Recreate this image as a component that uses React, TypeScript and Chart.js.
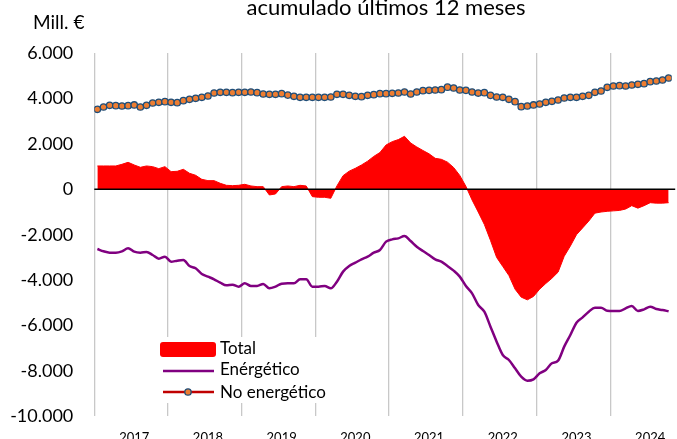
import { useEffect, useRef } from 'react';
import { Chart, registerables } from 'chart.js';

Chart.register(...registerables);

// Year tick labels (each covers 12 monthly categories)
const years = ['2017', '2018', '2019', '2020', '2021', '2022', '2023', '2024'];

// Monthly values, Mill. € (12-month accumulated)
const total = [
  1028, 1028, 1028, 1028, 1101, 1189, 1072, 969, 1028, 998, 910, 998,
  778, 793, 881, 705, 617, 440, 382, 382, 264, 176, 161, 176,
  220, 147, 117, 117, -250, -205, 117, 147, 117, 176, 147, -323,
  -352, -352, -396, 150, 600, 800, 925, 1072, 1240, 1450, 1620, 1952,
  2099, 2190, 2335, 2040, 1865, 1710, 1563, 1365, 1321, 1196, 960, 610,
  130, -470, -1000, -1550, -2250, -3000, -3400, -3800, -4400, -4750, -4870, -4720,
  -4400, -4150, -3920, -3650, -2950, -2500, -2000, -1700, -1400, -1050, -1000, -970,
  -950, -930, -870, -720, -830, -720, -590, -610, -610, -590,
];

const energetico = [
  -2630, -2732, -2790, -2790, -2732, -2600, -2747, -2790, -2762, -2894, -3056, -2967,
  -3188, -3144, -3114, -3378, -3480, -3730, -3848, -3966, -4112, -4230, -4200, -4289,
  -4142, -4260, -4260, -4171, -4362, -4289, -4157, -4142, -4142, -3966, -3966, -4289,
  -4289, -4260, -4362, -4068, -3627, -3378, -3232, -3085, -2967, -2791, -2674, -2307,
  -2205, -2160, -2057, -2278, -2527, -2718, -2894, -3085, -3188, -3378, -3584, -3848,
  -4260, -4583, -5100, -5391, -6051, -6712, -7300, -7519, -7886, -8254, -8430, -8371,
  -8107, -7960, -7666, -7549, -6932, -6418, -5875, -5640, -5391, -5214, -5214, -5347,
  -5361, -5361, -5244, -5141, -5361, -5288, -5170, -5273, -5317, -5376,
];

const noEnergetico = [
  3524, 3625, 3700, 3685, 3670, 3685, 3715, 3625, 3700, 3802, 3832, 3861,
  3832, 3817, 3905, 3964, 4008, 4052, 4111, 4243, 4273, 4273, 4258, 4273,
  4273, 4287, 4258, 4199, 4184, 4184, 4213, 4150, 4096, 4052, 4052, 4052,
  4052, 4052, 4066, 4184, 4184, 4140, 4096, 4081, 4140, 4169, 4213, 4213,
  4228, 4243, 4287, 4199, 4287, 4345, 4360, 4375, 4390, 4500, 4463, 4375,
  4360, 4287, 4240, 4257, 4139, 4066, 4052, 3964, 3861, 3640, 3670, 3715,
  3758, 3832, 3876, 3935, 4023, 4052, 4052, 4096, 4139, 4273, 4331, 4493,
  4551, 4566, 4551, 4595, 4625, 4654, 4742, 4771, 4815, 4903,
];

const seriesNames = ['Total', 'Enérgético', 'No energético'];
const titleText = 'acumulado últimos 12 meses';
const unitText = 'Mill. €';

const FONT = 'Lato, "Open Sans", sans-serif';
const OFF = 10; // canvas starts 10px above the visible page
const RED = '#ff0000';
const PURPLE = '#800080';
const DARKRED = '#c00000';
const ORANGE = '#ed7d31';
const NAVY = '#1f4e79';

function fmt(v: number): string {
  const s = Math.abs(v).toString().replace(/\B(?=(\d{3})+(?!\d))/g, '.');
  return (v < 0 ? '-' : '') + s;
}

const overlay = {
  id: 'overlay',
  afterDatasetsDraw(chart: any) {
    const { ctx, chartArea, scales } = chart;
    const y0 = Math.round(scales.y.getPixelForValue(0)) + 0.25;
    ctx.save();
    ctx.strokeStyle = '#000';
    ctx.lineWidth = 1.5;
    ctx.beginPath();
    ctx.moveTo(chartArea.left, y0);
    ctx.lineTo(chartArea.right + 3.5, y0);
    ctx.stroke();
    ctx.restore();
  },
  afterDraw(chart: any) {
    const { ctx } = chart;
    ctx.save();
    ctx.fillStyle = '#000';
    ctx.textBaseline = 'alphabetic';
    // title
    ctx.font = `22px ${FONT}`;
    ctx.textAlign = 'center';
    ctx.fillText(titleText, 386, 15 + OFF);
    // unit
    ctx.font = `19px ${FONT}`;
    ctx.textAlign = 'left';
    ctx.fillText(unitText, 33, 29 + OFF);

    // legend
    const ds = chart.data.datasets;
    ctx.fillStyle = '#fff';
    ctx.fillRect(150, 337 + OFF, 186, 66);
    // Total
    ctx.fillStyle = ds[0].backgroundColor;
    ctx.beginPath();
    (ctx as any).roundRect(160, 342 + OFF, 56, 15, 3);
    ctx.fill();
    // Energético
    ctx.strokeStyle = ds[1].borderColor;
    ctx.lineWidth = 2.5;
    ctx.beginPath();
    ctx.moveTo(163, 371 + OFF);
    ctx.lineTo(214, 371 + OFF);
    ctx.stroke();
    // No energético
    ctx.strokeStyle = ds[2].borderColor;
    ctx.lineWidth = 2.5;
    ctx.beginPath();
    ctx.moveTo(163, 392 + OFF);
    ctx.lineTo(214, 392 + OFF);
    ctx.stroke();
    ctx.beginPath();
    ctx.arc(188, 392 + OFF, 3.2, 0, Math.PI * 2);
    ctx.fillStyle = ds[2].pointBackgroundColor;
    ctx.fill();
    ctx.strokeStyle = ds[2].pointBorderColor;
    ctx.lineWidth = 1.3;
    ctx.stroke();

    ctx.fillStyle = '#000';
    ctx.font = `17px ${FONT}`;
    ctx.textBaseline = 'middle';
    ctx.textAlign = 'left';
    ctx.fillText(ds[0].label, 220, 349 + OFF);
    ctx.fillText(ds[1].label, 220, 370 + OFF);
    ctx.fillText(ds[2].label, 220, 393 + OFF);
    ctx.restore();
  },
};

export default function App() {
  const ref = useRef<HTMLCanvasElement | null>(null);

  useEffect(() => {
    if (!ref.current) return;
    const pts = (arr: number[]) => arr.map((y, i) => ({ x: i, y }));
    const isGrid = (v: number) => Number.isInteger((v + 0.5) / 12);
    const chart = new Chart(ref.current, {
      type: 'line',
      data: {
        datasets: [
          {
            label: seriesNames[0],
            data: pts(total),
            fill: 'origin',
            backgroundColor: RED,
            borderColor: RED,
            borderWidth: 1,
            pointRadius: 0,
            tension: 0,
            order: 3,
          },
          {
            label: seriesNames[1],
            data: pts(energetico),
            fill: false,
            borderColor: PURPLE,
            backgroundColor: PURPLE,
            borderWidth: 2.5,
            pointRadius: 0,
            cubicInterpolationMode: 'monotone',
            order: 2,
          },
          {
            label: seriesNames[2],
            data: pts(noEnergetico),
            fill: false,
            borderColor: DARKRED,
            backgroundColor: DARKRED,
            borderWidth: 2,
            pointRadius: 3.2,
            pointBackgroundColor: ORANGE,
            pointBorderColor: NAVY,
            pointBorderWidth: 1.3,
            order: 1,
          },
        ] as any,
      },
      options: {
        animation: false,
        responsive: false,
        devicePixelRatio: 1,
        events: [],
        layout: { padding: { top: 63.1, right: 3.2, left: 0, bottom: 0 } },
        plugins: {
          legend: { display: false },
          tooltip: { enabled: false },
          title: { display: false },
        },
        scales: {
          x: {
            type: 'linear',
            min: -0.5,
            max: 93.5,
            afterBuildTicks: (scale: any) => {
              const t: any[] = [];
              years.forEach((_, k) => {
                t.push({ value: -0.5 + 12 * k });
                t.push({ value: 6 + 12 * k });
              });
              scale.ticks = t;
            },
            afterFit: (scale: any) => {
              scale.height = 470 - 426.3;
            },
            grid: {
              color: (c: any) => (c.tick && isGrid(c.tick.value) ? '#c8c8c8' : 'rgba(0,0,0,0)'),
              lineWidth: 1.3,
              drawTicks: true,
              tickLength: 14,
              tickColor: 'rgba(0,0,0,0)',
            },
            border: { display: false },
            ticks: {
              autoSkip: false,
              maxRotation: 0,
              minRotation: 0,
              padding: 0,
              color: '#000',
              font: { family: FONT, size: 13 },
              callback: (v: any) => {
                const k = (Number(v) - 6) / 12;
                return Number.isInteger(k) ? years[k] : '';
              },
            },
          },
          y: {
            min: -10000,
            max: 6000,
            afterFit: (scale: any) => {
              scale.width = 94.3;
            },
            grid: { display: false, drawTicks: false },
            border: { display: false },
            ticks: {
              stepSize: 2000,
              padding: 21,
              color: '#000',
              font: { family: FONT, size: 18 },
              callback: (v: any) => fmt(Number(v)),
            },
          },
        },
      } as any,
      plugins: [overlay],
    });
    return () => chart.destroy();
  }, []);

  return (
    <div
      style={{
        position: 'fixed',
        left: 0,
        top: -OFF,
        width: 677,
        height: 470,
        background: '#fff',
        overflow: 'hidden',
      }}
    >
      <canvas ref={ref} width={677} height={470} style={{ width: 677, height: 470, display: 'block' }} />
    </div>
  );
}
